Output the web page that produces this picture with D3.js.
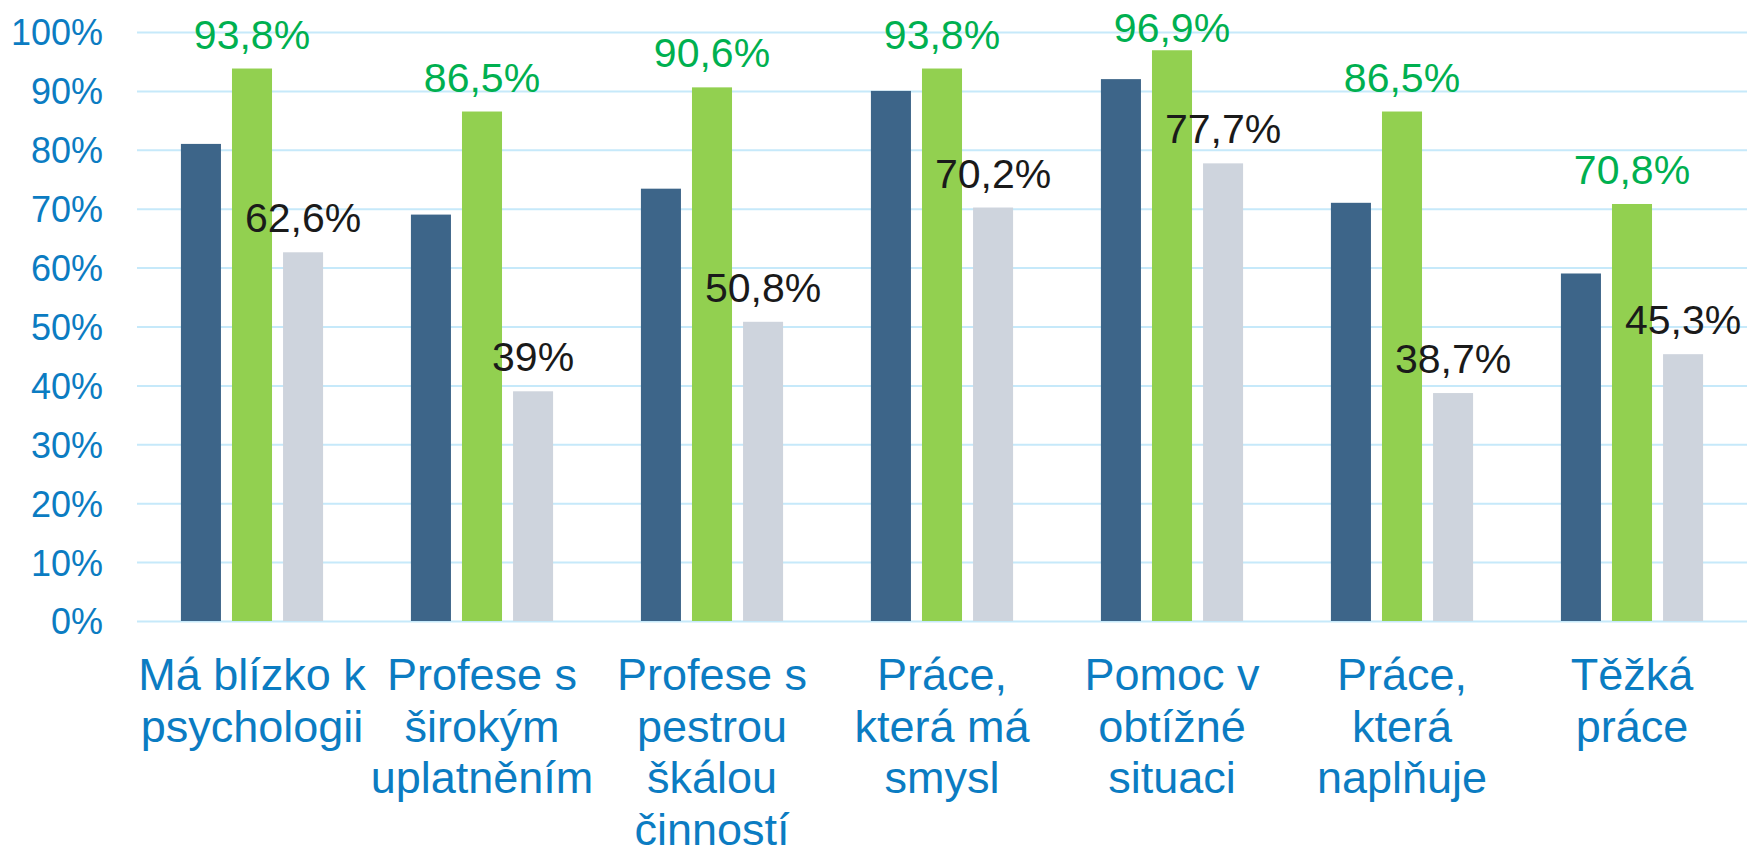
<!DOCTYPE html>
<html>
<head>
<meta charset="utf-8">
<script src="https://cdn.jsdelivr.net/npm/d3@7"></script>
<style>
  html, body { margin: 0; padding: 0; background: #fff; }
  svg { display: block; font-family: "Liberation Sans", Arial, sans-serif; }
</style>
</head>
<body>
<svg id="chart"></svg>
<script>
// categories (line breaks as in the original)
const categories = [
    'Má blízko k\npsychologii',
    'Profese s\nširokým\nuplatněním',
    'Profese s\npestrou\nškálou\nčinností',
    'Práce,\nkterá má\nsmysl',
    'Pomoc v\nobtížné\nsituaci',
    'Práce,\nkterá\nnaplňuje',
    'Těžká\npráce',
];
const seriesNames = ['s1', 's2', 's3'];
const darkValues = [81, 69, 73.4, 90, 92, 71, 59];
const greenValues = [93.8, 86.5, 90.6, 93.8, 96.9, 86.5, 70.8];
const grayValues = [62.6, 39, 50.8, 70.2, 77.7, 38.7, 45.3];
const yTicks = [0, 10, 20, 30, 40, 50, 60, 70, 80, 90, 100];

const colors = { s1: '#3d6589', s2: '#92d050', s3: '#ced4dd' };
const labelColors = { s2: '#00b050', s3: '#1a1a1a' };

const totalWidth = 1747;
const totalHeight = 848;
const margin = { top: 32, right: 0, bottom: 227, left: 137 };
const width = totalWidth - margin.left - margin.right;
const height = totalHeight - margin.top - margin.bottom;

const data = categories.map((c, i) => ({
    cat: c,
    s1: darkValues[i],
    s2: greenValues[i],
    s3: grayValues[i],
}));

const svg = d3.select('#chart')
    .attr('width', totalWidth)
    .attr('height', totalHeight);

const g = svg.append('g')
    .attr('transform', `translate(${margin.left}, ${margin.top})`);

const x0 = d3.scaleBand().domain(categories).range([0, width]);
const x1 = d3.scaleBand()
    .domain(seriesNames)
    .range([0, x0.bandwidth()])
    .paddingInner(0.216)
    .paddingOuter(0.86);
const y = d3.scaleLinear().domain([0, 100]).range([height, 0]);

// y axis with gridlines
const yAxis = g.append('g')
    .call(d3.axisLeft(y)
        .tickValues(yTicks)
        .tickSize(-width)
        .tickPadding(34)
        .tickFormat(d => d + '%'));
yAxis.select('.domain').remove();
yAxis.selectAll('.tick line')
    .attr('stroke', '#c6e9fa')
    .attr('stroke-width', 2);
yAxis.selectAll('.tick text')
    .attr('fill', '#0b7cc2')
    .attr('font-size', 36)
    .attr('dy', '0.36em');

// bars
const groups = g.append('g')
    .selectAll('g')
    .data(data)
    .join('g')
    .attr('transform', d => `translate(${x0(d.cat)}, 0)`);

groups.selectAll('rect')
    .data(d => seriesNames.map(k => ({ key: k, value: d[k] })))
    .join('rect')
    .attr('x', d => x1(d.key))
    .attr('width', x1.bandwidth())
    .attr('y', d => y(d.value))
    .attr('height', d => height - y(d.value))
    .attr('fill', d => colors[d.key]);

// value labels for green and gray series
// labels that would leave the chart top are pushed down (like excel does)
const fmt = v => d3.format('.1~f')(v).replace('.', ',') + '%';
const minBaseline = 10;
groups.selectAll('text.value')
    .data(d => ['s2', 's3'].map(k => ({ key: k, value: d[k] })))
    .join('text')
    .attr('class', 'value')
    .attr('x', d => x1(d.key) + x1.bandwidth() / 2)
    .attr('y', d => Math.max(y(d.value) - 20, minBaseline))
    .attr('text-anchor', 'middle')
    .attr('font-size', 41)
    .attr('fill', d => labelColors[d.key])
    .text(d => fmt(d.value));

// x axis labels
const xAxis = g.append('g')
    .attr('transform', `translate(0, ${height})`)
    .call(d3.axisBottom(x0).tickSize(0).tickFormat(''));
xAxis.select('.domain').remove();
xAxis.selectAll('.tick text').remove();
xAxis.selectAll('.tick')
    .append('text')
    .attr('text-anchor', 'middle')
    .attr('fill', '#0b7cc2')
    .attr('font-size', 45)
    .selectAll('tspan')
    .data(d => d.split('\n'))
    .join('tspan')
    .attr('x', 0)
    .attr('y', (d, i) => 69 + i * 51.5)
    .text(d => d);
</script>
</body>
</html>
